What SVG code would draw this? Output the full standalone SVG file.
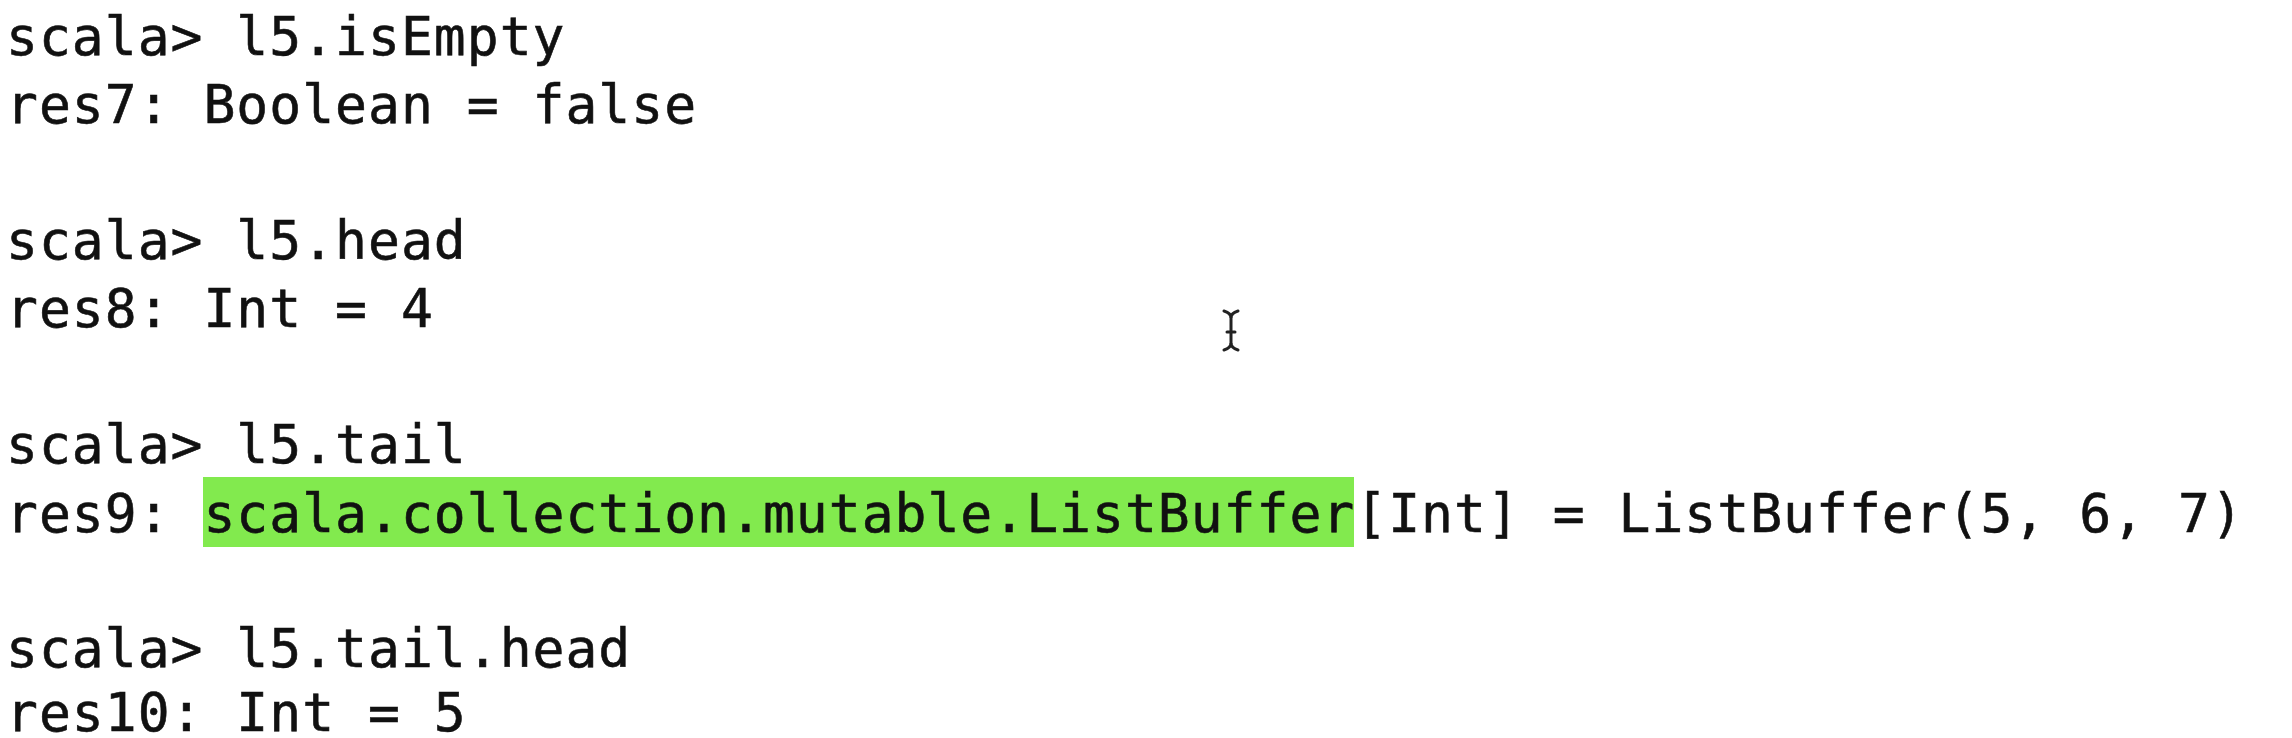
<svg xmlns="http://www.w3.org/2000/svg" width="2292" height="738" viewBox="0 0 2292 738">
<style>
.t{font-family:"DejaVu Sans Mono","Liberation Mono",monospace;font-size:53px;letter-spacing:1px;fill:#111111;stroke:#111111;stroke-width:0.6px}
</style>
<rect x="0" y="0" width="2292" height="738" fill="#ffffff"/>
<g id="highlight">
<rect x="203" y="477" width="1151" height="70" fill="#82ea4e"/>
</g>
<g id="lines">
<text class="t" x="6" y="55">scala&gt; l5.isEmpty</text>
<text class="t" x="6" y="123">res7: Boolean = false</text>
<text class="t" x="6" y="259">scala&gt; l5.head</text>
<text class="t" x="6" y="327">res8: Int = 4</text>
<text class="t" x="6" y="463">scala&gt; l5.tail</text>
<text class="t" x="6" y="532">res9: scala.collection.mutable.ListBuffer[Int] = ListBuffer(5, 6, 7)</text>
<text class="t" x="6" y="667">scala&gt; l5.tail.head</text>
<text class="t" x="6" y="731">res10: Int = 5</text>
</g>
<g id="cursor" fill="none" stroke="#222" stroke-width="3" stroke-linecap="round">
<path d="M1224,311 Q1231,313 1231,318 Q1231,313 1238,311"/>
<path d="M1231,318 L1231,343"/>
<path d="M1224,350 Q1231,348 1231,343 Q1231,348 1238,350"/>
<path d="M1227,332 L1235,332"/>
</g>
</svg>
